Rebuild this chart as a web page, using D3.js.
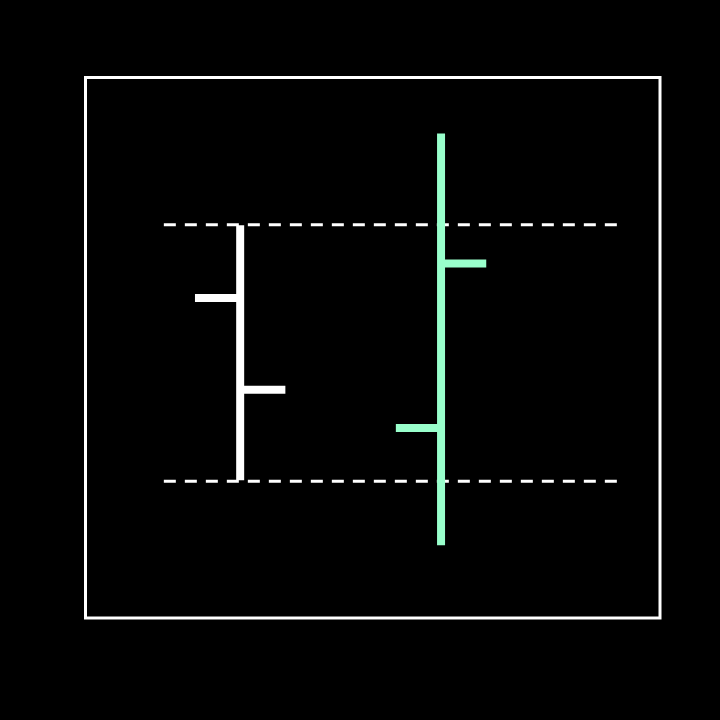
<!DOCTYPE html>
<html>
<head>
<meta charset="utf-8">
<script src="https://cdn.jsdelivr.net/npm/d3@7"></script>
<style>
  html, body { margin: 0; padding: 0; background: #000; }
</style>
</head>
<body>
<div class="canvas"></div>
<script>
// OHLC values, one entry per bar
const idx = [0, 1];
const open = [17.15, 12.05];
const high = [20, 23.6];
const low = [10, 7.45];
const close = [13.55, 18.5];
const colors = ["#ffffff", "#99ffcc"];

// dashed reference levels
const levels = [20.02, 9.96];

const width = 720, height = 720;

const svg = d3.select(".canvas")
  .append("svg")
    .attr("width", width)
    .attr("height", height)
    .style("background", "#000");

// scales - frame is the plot area
const x = d3.scaleLinear().domain([-0.77, 2.09]).range([85.5, 660]);
const y = d3.scaleLinear().domain([4.6, 25.8]).range([618, 77.5]);
const tick = 0.225;

// dashed horizontal lines
svg.selectAll("line.level")
  .data(levels)
  .enter()
  .append("line")
    .attr("class", "level")
    .attr("x1", x(-0.38))
    .attr("x2", x(1.88))
    .attr("y1", d => y(d))
    .attr("y2", d => y(d))
    .attr("stroke", "#fff")
    .attr("stroke-width", 3)
    .attr("stroke-dasharray", "12,9");

// bars - each one a group
const bars = svg.selectAll("g.bar")
  .data(idx)
  .enter()
  .append("g")
    .attr("class", "bar");

bars.append("line")
  .attr("x1", i => x(i))
  .attr("x2", i => x(i))
  .attr("y1", i => y(high[i]))
  .attr("y2", i => y(low[i]))
  .attr("stroke", i => colors[i])
  .attr("stroke-width", 8);

// open tick on the left
bars.append("line")
  .attr("x1", i => x(i - tick))
  .attr("x2", i => x(i))
  .attr("y1", i => y(open[i]))
  .attr("y2", i => y(open[i]))
  .attr("stroke", i => colors[i])
  .attr("stroke-width", 8);

// close tick on the right
bars.append("line")
  .attr("x1", i => x(i))
  .attr("x2", i => x(i + tick))
  .attr("y1", i => y(close[i]))
  .attr("y2", i => y(close[i]))
  .attr("stroke", i => colors[i])
  .attr("stroke-width", 8);

// frame
svg.append("rect")
  .attr("x", x.range()[0])
  .attr("y", y.range()[1])
  .attr("width", x.range()[1] - x.range()[0])
  .attr("height", y.range()[0] - y.range()[1])
  .attr("fill", "none")
  .attr("stroke", "#fff")
  .attr("stroke-width", 3);
</script>
</body>
</html>
